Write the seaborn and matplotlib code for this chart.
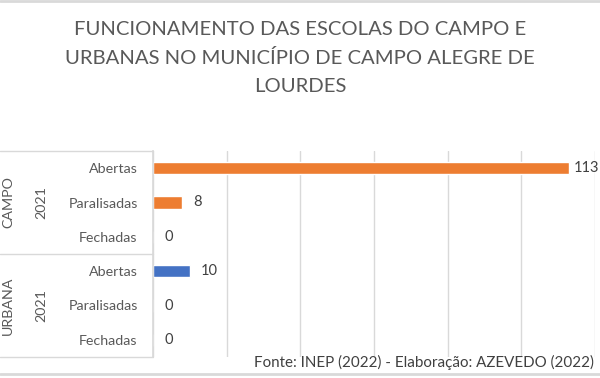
import matplotlib.pyplot as plt
import matplotlib.transforms as mtransforms
from matplotlib.lines import Line2D
import pandas as pd
import seaborn as sns

TITLE = ('FUNCIONAMENTO DAS ESCOLAS DO CAMPO E\n'
         'URBANAS NO MUNICÍPIO DE CAMPO ALEGRE DE\nLOURDES')
FONTE = 'Fonte: INEP (2022) - Elaboração: AZEVEDO (2022)'

grupos = ['CAMPO', 'CAMPO', 'CAMPO', 'URBANA', 'URBANA', 'URBANA']
anos = ['2021', '2021', '2021', '2021', '2021', '2021']
situacao = ['Abertas', 'Paralisadas', 'Fechadas',
            'Abertas', 'Paralisadas', 'Fechadas']
escolas = [113, 8, 0, 10, 0, 0]

CORES = {'CAMPO': '#ED7D31', 'URBANA': '#4472C4'}
GRID = '#D9D9D9'
TXT = '#595959'

sns.set_theme(style='white')
plt.rcParams['font.family'] = ['Lato', 'DejaVu Sans']

df = pd.DataFrame({'linha': [f'{g}|{s}' for g, s in zip(grupos, situacao)],
                   'grupo': grupos, 'ano': anos, 'situacao': situacao,
                   'escolas': escolas})

fig = plt.figure(figsize=(6, 3.78), dpi=100)
ax = fig.add_axes([153 / 600, 1 - 357 / 378, 442 / 600, 206 / 378])

sns.barplot(data=df, x='escolas', y='linha', hue='grupo', palette=CORES,
            dodge=False, width=0.36, legend=False, ax=ax, saturation=1)

for c in ax.containers:
    lbls = ax.bar_label(c, padding=8, fontsize=10.5, color='#404040')
    # the longest bar's label sits right at the edge of the picture
    for bar, t in zip(c, lbls):
        if bar.get_width() > 100:
            t.set_position((3, 0))

ax.set_xlim(0, 120)
ax.set_xticks(range(0, 121, 20))
ax.xaxis.grid(True, color=GRID, lw=1)
ax.set_axisbelow(True)
ax.tick_params(axis='x', length=0, labelbottom=False)
ax.tick_params(axis='y', length=0, pad=11, labelsize=10.3, labelcolor=TXT)
ax.set_yticks(range(len(situacao)))
ax.set_yticklabels(situacao)
ax.set_xlabel('')
ax.set_ylabel('')
for s in ['top', 'right', 'bottom']:
    ax.spines[s].set_visible(False)
ax.spines['left'].set_color(GRID)

# category table on the left
for yy in [-0.5, 2.5, 5.5]:
    ax.axhline(yy, xmin=-153 / 442, xmax=0, color=GRID, lw=1, clip_on=False)

trans = mtransforms.blended_transform_factory(fig.transFigure, ax.transData)
for g in ['CAMPO', 'URBANA']:
    yc = df.index[df['grupo'] == g].values.mean()
    ax.text(8 / 600, yc, g, rotation=90, ha='center', va='center',
            fontsize=10.3, color=TXT, transform=trans)
    ax.text(41 / 600, yc, df.loc[df['grupo'] == g, 'ano'].iloc[0],
            rotation=90, ha='center', va='center', fontsize=10.3, color=TXT,
            transform=trans)

fig.text(0.5, 1 - 58 / 378, TITLE, ha='center', va='center', fontsize=14.6,
         color=TXT, linespacing=1.78)
fig.text(594 / 600, 1 - 362 / 378, FONTE, ha='right', va='center',
         fontsize=10.9, color='#404040')

for yy in [1 - 1 / 378, 1 - 374 / 378]:
    fig.add_artist(Line2D([0, 1], [yy, yy], color=GRID, lw=2,
                          transform=fig.transFigure))

fig.savefig('out.png', dpi=100)
